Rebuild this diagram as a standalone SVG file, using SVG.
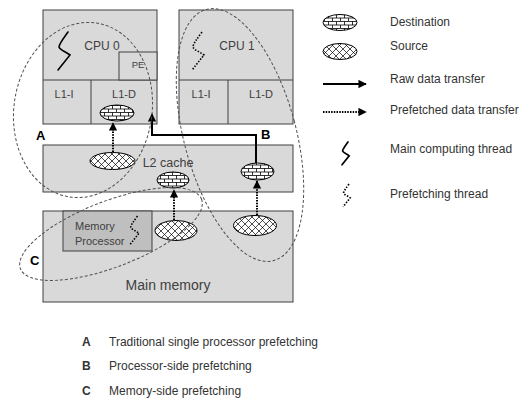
<svg xmlns="http://www.w3.org/2000/svg" width="519" height="400" viewBox="0 0 519 400">
<style>
.box{fill:#d9d9d9;stroke:#404040;stroke-width:1}
.mp{fill:#bfbfbf;stroke:#404040;stroke-width:1}
.t{font-family:"Liberation Sans",Arial,sans-serif;fill:#404040}
.lg{font-family:"Liberation Sans",Arial,sans-serif;font-size:12px;fill:#333}
.lbl{font-family:"Liberation Sans",Arial,sans-serif;font-size:13px;font-weight:bold;fill:#000}
.dest{fill:url(#brick);stroke:#000;stroke-width:1}
.src{fill:url(#cross);stroke:#000;stroke-width:1}
.raw{fill:none;stroke:#000;stroke-width:2}
.pf{fill:none;stroke:#000;stroke-width:2;stroke-dasharray:1.5 1.2}
.loop{fill:none;stroke:#505050;stroke-width:1;stroke-dasharray:3 2}
.th{fill:none;stroke:#000;stroke-width:1.6;stroke-linecap:round}
.thd{fill:none;stroke:#000;stroke-width:1.6;stroke-dasharray:1.5 1.5}
</style>
<defs>
<pattern id="brick" patternUnits="userSpaceOnUse" width="8" height="7">
<rect width="8" height="7" fill="#fff"/>
<path d="M0,0.5H8M0,4H8M0.5,0.5V4M4.5,4V7.5" stroke="#000" stroke-width="0.8" fill="none"/>
</pattern>
<pattern id="cross" patternUnits="userSpaceOnUse" width="7" height="7">
<rect width="7" height="7" fill="#fff"/>
<path d="M0,0L7,7M7,0L0,7" stroke="#000" stroke-width="0.7" fill="none"/>
</pattern>
<marker id="ah" viewBox="0 0 10 10" refX="9" refY="5" markerWidth="4.2" markerHeight="4.2" orient="auto" markerUnits="strokeWidth">
<path d="M0,0L10,5L0,10z" fill="#000"/>
</marker>
<path id="thr" d="M68,32 C63,39 59,44 59,47 C60,50 66,52 70,55 L58,70"/>
</defs>

<g id="cpu0">
<rect class="box" x="43" y="10" width="114" height="114"/>
<line x1="43" y1="80" x2="157" y2="80" stroke="#404040"/>
<line x1="91" y1="80" x2="91" y2="124" stroke="#404040"/>
<rect class="box" x="119" y="52" width="38" height="28"/>
<text class="t" x="102" y="50" font-size="12" text-anchor="middle">CPU 0</text>
<text class="t" x="138" y="68" font-size="9.5" text-anchor="middle">PE</text>
<text class="t" x="64" y="98" font-size="11" text-anchor="middle">L1-I</text>
<text class="t" x="124" y="98" font-size="11" text-anchor="middle">L1-D</text>
<use href="#thr" class="th"/>
</g>

<g id="cpu1">
<rect class="box" x="179" y="10" width="114" height="114"/>
<line x1="179" y1="80" x2="293" y2="80" stroke="#404040"/>
<line x1="228" y1="80" x2="228" y2="124" stroke="#404040"/>
<text class="t" x="237" y="50" font-size="12" text-anchor="middle">CPU 1</text>
<text class="t" x="201" y="98" font-size="11" text-anchor="middle">L1-I</text>
<text class="t" x="261" y="98" font-size="11" text-anchor="middle">L1-D</text>
<use href="#thr" class="thd" transform="translate(134,0)"/>
</g>

<g id="l2">
<rect class="box" x="43" y="145" width="250" height="47"/>
<text class="t" x="168" y="167" font-size="12.5" text-anchor="middle">L2 cache</text>
</g>

<g id="mainmem">
<rect class="box" x="43" y="211" width="250" height="91"/>
<text class="t" x="168" y="290" font-size="14" text-anchor="middle">Main memory</text>
</g>

<g id="memproc">
<rect class="mp" x="63" y="211" width="89" height="40"/>
<text class="t" x="75" y="230" font-size="11">Memory</text>
<text class="t" x="75" y="245" font-size="11">Processor</text>
<use href="#thr" class="thd" style="stroke-width:2.1;stroke-dasharray:2 2" transform="translate(130,216) scale(0.75) translate(-58,-32)"/>
</g>

<g id="symbols">
<ellipse class="dest" cx="117" cy="113" rx="17" ry="8"/>
<ellipse class="src" cx="112.5" cy="161" rx="22.5" ry="8.5"/>
<ellipse class="dest" cx="173" cy="180" rx="16" ry="8"/>
<ellipse class="dest" cx="257.5" cy="171.5" rx="16.5" ry="8.5"/>
<ellipse class="src" cx="176" cy="230.5" rx="21" ry="10"/>
<ellipse class="src" cx="255" cy="225.5" rx="21.5" ry="10"/>
</g>

<g id="connectors">
<path class="raw" d="M256,163 V135 H152 V114" marker-end="url(#ah)"/>
<path class="pf" d="M113,152 V123" marker-end="url(#ah)"/>
<path class="pf" d="M174,220 V190" marker-end="url(#ah)"/>
<path class="pf" d="M257,215 V181" marker-end="url(#ah)"/>
</g>

<g id="loops">
<ellipse class="loop" cx="83" cy="110" rx="69" ry="88" transform="rotate(9 83 110)"/>
<ellipse class="loop" cx="240" cy="135" rx="56" ry="130" transform="rotate(-15 240 135)"/>
<ellipse class="loop" cx="111" cy="234" rx="97" ry="33" transform="rotate(-21 111 234)"/>
<text class="lbl" x="36" y="140">A</text>
<text class="lbl" x="261" y="139">B</text>
<text class="lbl" x="30" y="265">C</text>
</g>

<g id="legend">
<ellipse class="dest" cx="340" cy="22.5" rx="17" ry="8"/>
<text class="lg" x="390" y="26">Destination</text>
<ellipse class="src" cx="340" cy="51.5" rx="17" ry="8"/>
<text class="lg" x="390" y="50">Source</text>
<path class="raw" d="M323,84 H366" marker-end="url(#ah)"/>
<text class="lg" x="390" y="83">Raw data transfer</text>
<path class="pf" d="M323,112 H366" marker-end="url(#ah)"/>
<text class="lg" x="390" y="114">Prefetched data transfer</text>
<use href="#thr" class="th" style="stroke-width:2.8" transform="translate(342,142) scale(0.6) translate(-58,-32)"/>
<text class="lg" x="390" y="153">Main computing thread</text>
<use href="#thr" class="thd" style="stroke-width:2.8;stroke-dasharray:2.5 2.5" transform="translate(343,184) scale(0.6) translate(-58,-32)"/>
<text class="lg" x="390" y="198">Prefetching thread</text>
</g>

<g id="key">
<text class="lg" x="82" y="346" font-weight="bold" fill="#222">A</text>
<text class="lg" x="109" y="346">Traditional single processor prefetching</text>
<text class="lg" x="82" y="370" font-weight="bold" fill="#222">B</text>
<text class="lg" x="109" y="370">Processor-side prefetching</text>
<text class="lg" x="82" y="395" font-weight="bold" fill="#222">C</text>
<text class="lg" x="109" y="395">Memory-side prefetching</text>
</g>
</svg>
